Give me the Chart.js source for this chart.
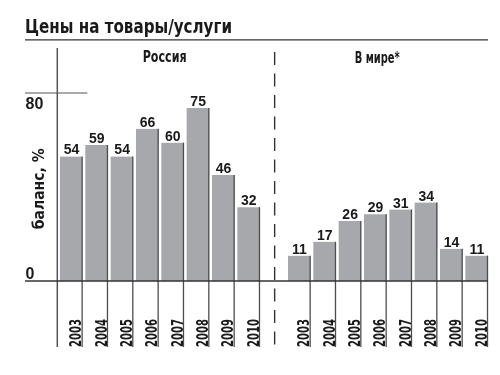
<!DOCTYPE html>
<html><head><meta charset="utf-8">
<script src="https://cdn.jsdelivr.net/npm/chart.js@4"></script>
<style>html,body{margin:0;padding:0;background:#fff}</style>
</head><body>
<canvas id="c" width="500" height="375"></canvas>
<script>
const years = ['2003','2004','2005','2006','2007','2008','2009','2010'];
const russia = [54,59,54,66,60,75,46,32];
const world = [11,17,26,29,31,34,14,11];
const groupNames = ['Россия','В мире*'];
const yTicks = [0,80];
const titleText = 'Цены на товары/услуги';
const yTitle = 'баланс, %';

const labels = [...years, '', ...years];
const values = [...russia, null, ...world];

const NARROW = "'Liberation Sans Narrow','Arial Narrow','DejaVu Sans Condensed','DejaVu Sans',sans-serif";
const SANS = "'Liberation Sans',Arial,sans-serif";
const INK = '#1a1a1a';
const LINE = '#4d4d4d';

// draw text squeezed horizontally to a given width
function fitText(ctx, text, x, y, font, width, align) {
  ctx.save();
  ctx.font = font;
  const w = ctx.measureText(text).width;
  const k = width / w;
  ctx.translate(x, y);
  ctx.scale(k, 1);
  ctx.textAlign = align;
  ctx.fillText(text, 0, 0);
  ctx.restore();
}

const deco = {
  id: 'deco',
  afterDatasetsDraw(chart) {
    const {ctx, chartArea: ca, scales: {x, y}} = chart;
    const meta = chart.getDatasetMeta(0);
    const y0 = y.getPixelForValue(0);
    const bottom = y0 + 66;
    const left = y.left;
    const half = (x.getPixelForValue(1) - x.getPixelForValue(0)) / 2;
    ctx.save();
    const seg = (x1, y1, x2, y2, w, c) => {
      ctx.beginPath(); ctx.lineWidth = w; ctx.strokeStyle = c;
      ctx.moveTo(x1, y1); ctx.lineTo(x2, y2); ctx.stroke();
    };
    // title + underline
    ctx.fillStyle = INK;
    ctx.textBaseline = 'alphabetic';
    fitText(ctx, titleText, left, 33, "bold 20px " + NARROW, 207, 'left');
    seg(left, ca.top - 10.5, ca.right, ca.top - 10.5, 1.3, '#333');
    // bar right-edge separators
    meta.data.forEach((el, i) => {
      if (values[i] === null || values[i] === undefined) return;
      const xr = el.x + el.width / 2 - 0.5;
      seg(xr, el.y, xr, bottom, 1.3, LINE);
    });
    // y axis line
    seg(ca.left, ca.top - 2.5, ca.left, bottom, 1.5, '#555');
    // short line near top tick
    const yTop = y.getPixelForValue(yTicks[yTicks.length - 1]) - 3.5;
    seg(left, yTop, ca.left + 30, yTop, 1.1, '#555');
    // dashed separator
    const gap = years.length;
    const xg = x.getPixelForValue(gap) + 2;
    ctx.setLineDash([13, 8.5]);
    seg(xg, ca.top + 1.5, xg, bottom, 1.4, '#333');
    ctx.setLineDash([]);
    // zero line
    seg(left, y0, ca.right, y0, 1.5, '#333');
    // value labels
    ctx.fillStyle = INK;
    ctx.font = "bold 14px " + SANS;
    ctx.textAlign = 'center';
    ctx.textBaseline = 'alphabetic';
    meta.data.forEach((el, i) => {
      const v = values[i];
      if (v === null || v === undefined) return;
      ctx.fillText(String(v), el.x + 1.5, el.y - 2);
    });
    // year tick labels (rotated, reading upwards)
    labels.forEach((lab, i) => {
      if (!lab) return;
      const bx = x.getPixelForValue(i) + half - 1.4;
      ctx.save();
      ctx.translate(bx, bottom);
      ctx.rotate(-Math.PI / 2);
      fitText(ctx, lab, 0, 0, "bold 16.5px " + NARROW, 28, 'left');
      ctx.restore();
    });
    // y tick labels
    ctx.font = "bold 16px " + SANS;
    ctx.textAlign = 'left';
    yTicks.forEach(v => {
      const py = y.getPixelForValue(v);
      const by = v === 0 ? py - 2 : py + 12.5;
      ctx.fillText(String(v), left + 0.5, by);
    });
    // y axis title
    ctx.save();
    ctx.translate(left + 14.5, y.getPixelForValue(40));
    ctx.rotate(-Math.PI / 2);
    ctx.textBaseline = 'middle';
    fitText(ctx, yTitle, 0, 0, "bold 15.5px " + NARROW, 81, 'center');
    ctx.restore();
    // group headers
    ctx.textBaseline = 'alphabetic';
    const cx1 = (x.getPixelForValue(0) + x.getPixelForValue(years.length - 1)) / 2 + 6;
    const cx2 = (x.getPixelForValue(years.length + 1) + x.getPixelForValue(2 * years.length)) / 2 - 9.5;
    fitText(ctx, groupNames[0], cx1, ca.top + 12, "bold 15.5px " + NARROW, 44, 'center');
    fitText(ctx, groupNames[1], cx2, ca.top + 13, "bold 15.5px " + NARROW, 45, 'center');
    ctx.restore();
  }
};

new Chart(document.getElementById('c'), {
  type: 'bar',
  data: {
    labels: labels,
    datasets: [{
      data: values,
      backgroundColor: '#a7a8ab',
      borderColor: '#ffffff',
      borderWidth: {left: 3, right: 0, top: 0, bottom: 0},
      borderSkipped: false,
      barPercentage: 1,
      categoryPercentage: 1
    }]
  },
  options: {
    responsive: false,
    animation: false,
    devicePixelRatio: 1,
    layout: {padding: {left: 25, right: 12, top: 50.4, bottom: 0}},
    plugins: {
      legend: {display: false},
      tooltip: {enabled: false},
      title: {display: false}
    },
    scales: {
      x: {
        offset: true,
        grid: {display: false, drawTicks: false},
        border: {display: false},
        ticks: {display: false, autoSkip: false},
        afterFit(s) { s.height = 94; }
      },
      y: {
        min: 0,
        max: 100,
        grid: {display: false, drawTicks: false},
        border: {display: false},
        ticks: {display: false},
        afterFit(s) { s.width = 32.3; }
      }
    }
  },
  plugins: [deco]
});
</script>
</body></html>
